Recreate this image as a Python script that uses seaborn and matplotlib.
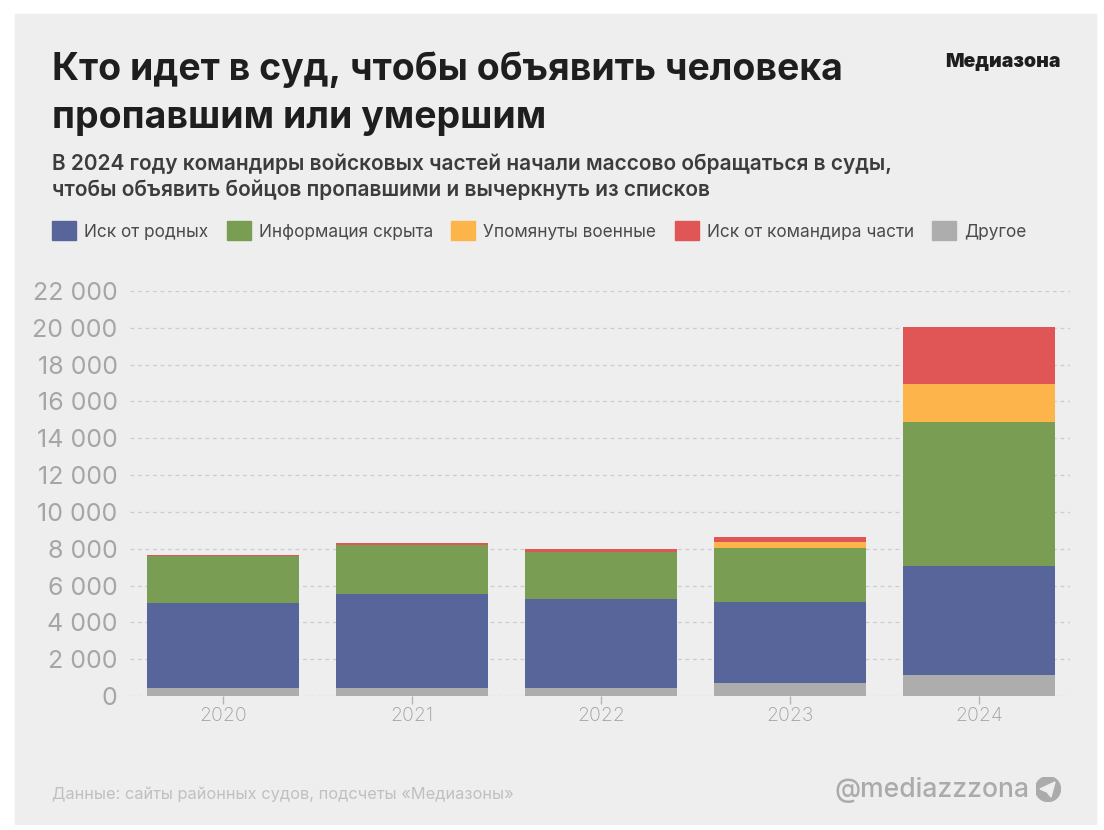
import matplotlib
matplotlib.use("Agg")
import matplotlib.pyplot as plt
from matplotlib.patches import Rectangle, Circle, Polygon, Patch
import numpy as np
import pandas as pd
import seaborn as sns

years = ["2020", "2021", "2022", "2023", "2024"]
other = [435, 435, 435, 722, 1124]
relatives = [4600, 5122, 4850, 4368, 5953]
hidden = [2569, 2628, 2553, 2965, 7806]
military = [0, 0, 0, 310, 2064]
commander = [71, 125, 147, 271, 3096]

y_ticks = list(range(0, 22001, 2000))
y_labels = ["0", "2 000", "4 000", "6 000", "8 000", "10 000", "12 000", "14 000", "16 000", "18 000", "20 000", "22 000"]

# bottom to top order in the stack
stack = [
    ("Другое", other, "#ADADAD"),
    ("Иск от родных", relatives, "#58659B"),
    ("Информация скрыта", hidden, "#7A9D54"),
    ("Упомянуты военные", military, "#FDB44B"),
    ("Иск от командира части", commander, "#E05656"),
]
legend_order = [1, 2, 3, 4, 0]

W, H = 1104, 830
PANEL = "#EEEEEE"

sns.set_theme(style="white")
plt.rcParams["font.family"] = ["Inter", "DejaVu Sans"]

fig = plt.figure(figsize=(W / 100, H / 100), dpi=100, facecolor="white")
fig.add_artist(Rectangle((15 / W, 1 - 824 / H), 1081 / W, 810 / H, transform=fig.transFigure, color=PANEL, zorder=-5))

ax = fig.add_axes([130 / W, 1 - 696 / H, 940 / W, 405 / H])
ax.patch.set_alpha(0)

bottom = np.zeros(len(years))
for name, vals, col in stack:
    df = pd.DataFrame({"year": years, "n": vals})
    sns.barplot(data=df, x="year", y="n", color=col, width=0.804, bottom=bottom, saturation=1, linewidth=0, ax=ax, zorder=3)
    bottom += np.array(vals)

ax.set_xlim(-0.492, 4.481)
ax.set_ylim(0, 22000)
ax.set_xlabel("")
ax.set_ylabel("")
ax.set_yticks(y_ticks, y_labels)
ax.grid(axis="y", color="#CCCCCC", linestyle=(0, (3, 3)), linewidth=0.9, zorder=0)
ax.tick_params(axis="y", length=0, pad=9, labelsize=18, labelcolor="#A6A6A6")
ax.tick_params(axis="x", length=6, width=1, color="#B5B5B5", pad=2, labelsize=14, labelcolor="#A0A0A0", bottom=True)
for lab in ax.get_xticklabels():
    lab.set_fontweight("light")
sns.despine(ax=ax, left=True, bottom=True)

fig.text(52 / W, 1 - 70 / H, "Кто идет в суд, чтобы объявить человека", fontsize=26.95, fontweight="bold", color="#1E1E1E", va="center")
fig.text(52 / W, 1 - 118 / H, "пропавшим или умершим", fontsize=26.95, fontweight="bold", color="#1E1E1E", va="center")
fig.text(52 / W, 1 - 164 / H, "В 2024 году командиры войсковых частей начали массово обращаться в суды,", fontsize=15.05, fontweight="semibold", color="#3C3C3C", va="center")
fig.text(52 / W, 1 - 190 / H, "чтобы объявить бойцов пропавшими и вычеркнуть из списков", fontsize=15.05, fontweight="semibold", color="#3C3C3C", va="center")
fig.text(1061 / W, 1 - 62 / H, "Медиазона", fontsize=14, fontweight="black", color="#1E1E1E", va="center", ha="right")

handles = [Patch(color=stack[i][2], label=stack[i][0]) for i in legend_order]
fig.legend(handles=handles, loc="center left", bbox_to_anchor=(52 / W, 1 - 231 / H), ncol=5, frameon=False,
           borderaxespad=0, borderpad=0, fontsize=12.4, labelcolor="#4A4A4A",
           handlelength=1.4, handleheight=1.28, handletextpad=0.46, columnspacing=1.07)

fig.text(52 / W, 1 - 794 / H, "Данные: сайты районных судов, подсчеты «Медиазоны»", fontsize=11.8, color="#C0C0C0", va="center")
fig.text(1029 / W, 1 - 790 / H, "@mediazzzona", fontsize=19.1, fontweight="medium", color="#ABABAB", va="center", ha="right")

# telegram icon, drawn in pixel coords of the figure
cx, cy = 1048, 789
def to_fig(pts):
    return [(x / W, 1 - y / H) for x, y in pts]
fig.add_artist(Polygon(to_fig([(cx - 8, cy), (cx + 7, cy - 7), (cx + 3, cy + 8), (cx - 1, cy + 3)]), transform=fig.transFigure, color=PANEL, zorder=6))
icon = fig.add_axes([(cx - 12.5) / W, 1 - (cy + 12.5) / H, 25 / W, 25 / H], zorder=-1)
icon.add_patch(Circle((0.5, 0.5), 0.5, color="#ABABAB"))
icon.set_axis_off()

fig.savefig("out.png", dpi=100, facecolor="white")
